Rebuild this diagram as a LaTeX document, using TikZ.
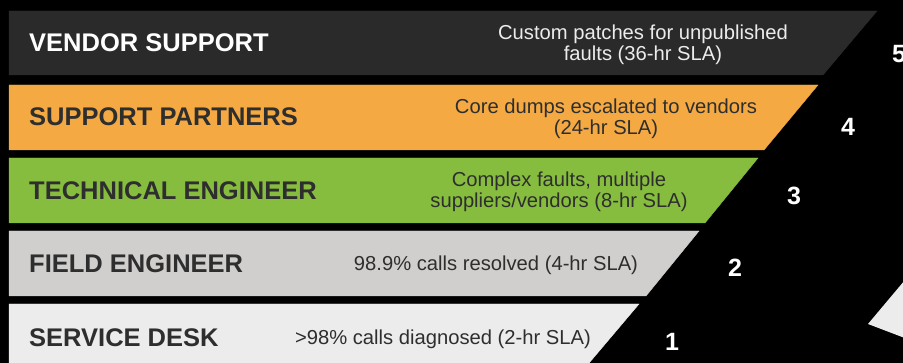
\documentclass[tikz,border=0pt]{standalone}
\usepackage{fontspec}
\setmainfont{Liberation Sans}
\usepackage{tikz}

\definecolor{vendorgrey}{HTML}{2A2A2A}
\definecolor{partnerorange}{HTML}{F4A942}
\definecolor{techgreen}{HTML}{86BD3F}
\definecolor{fieldgrey}{HTML}{D1CFCD}
\definecolor{deskgrey}{HTML}{ECECEC}
\definecolor{darktext}{HTML}{2E2E2E}

\begin{document}
\begin{tikzpicture}[x=1pt, y=-1pt,
  title/.style={anchor=west, inner sep=0pt, font=\fontsize{25.5}{25.5}\selectfont\bfseries, text=darktext},
  desc/.style={align=center, inner sep=0pt, font=\fontsize{20.2}{20.5}\selectfont, text=darktext},
  num/.style={inner sep=0pt, font=\fontsize{25}{25}\selectfont\bfseries, text=white}]
\useasboundingbox (0,0) rectangle (903,363);
\fill[black] (0,0) rectangle (903,363);

\draw[color=vendorgrey, fill=vendorgrey] (9,11) -- (877,11) -- (823,75) -- (9,75) -- cycle;
\draw (29,43) node[title, text=white] (vendor) {VENDOR SUPPORT};
\draw (643,45) node[desc, text=deskgrey] (vendordesc) {Custom patches for unpublished\\faults (36-hr SLA)};

\draw[color=partnerorange, fill=partnerorange] (9,85) -- (818,85) -- (764,150) -- (9,150) -- cycle;
\draw (29,117) node[title] (partner) {SUPPORT PARTNERS};
\draw (606,119) node[desc] (partnerdesc) {Core dumps escalated to vendors\\(24-hr SLA)};

\draw[color=techgreen, fill=techgreen] (9,158) -- (758,158) -- (705,223) -- (9,223) -- cycle;
\draw (29,191) node[title] (tech) {TECHNICAL ENGINEER};
\draw (559,192) node[desc] (techdesc) {Complex faults, multiple\\suppliers/vendors (8-hr SLA)};

\draw[color=fieldgrey, fill=fieldgrey] (9,231) -- (699,231) -- (646,296) -- (9,296) -- cycle;
\draw (29,264) node[title] (field) {FIELD ENGINEER};
\draw (496,265) node[desc] (fielddesc) {98.9\% calls resolved (4-hr SLA)};

\draw[color=deskgrey, fill=deskgrey] (9,304) -- (639,304) -- (584,369) -- (9,369) -- cycle;
\draw (29,338) node[title] (desk) {SERVICE DESK};
\draw (443,339) node[desc] (deskdesc) {>98\% calls diagnosed (2-hr SLA)};

\fill[deskgrey] (868,324) -- (910,274) -- (910,340) -- cycle;

\draw (899,54) node[num] (five) {5};
\draw (848,127) node[num] (four) {4};
\draw (794,196) node[num] (three) {3};
\draw (735,268) node[num] (two) {2};
\draw (672,342) node[num] (one) {1};
\end{tikzpicture}
\end{document}
